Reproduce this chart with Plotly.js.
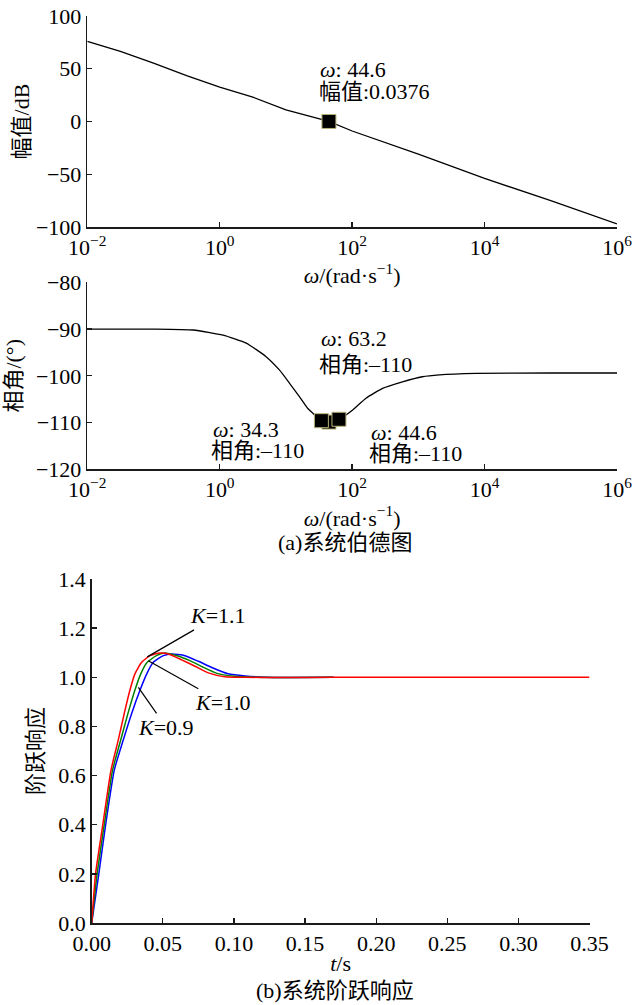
<!DOCTYPE html>
<html><head><meta charset="utf-8">
<script src="https://cdn.plot.ly/plotly-3.0.1.min.js"></script>
<style>html,body{margin:0;padding:0;background:#fff}#chart{width:632px;height:1005px}</style>
</head><body><div id="chart"></div>
<script>
// ---- Bode magnitude (ω in rad/s, dB) ----
const magW  = [0.01, 0.0316, 0.1, 0.316, 1, 3.16, 10, 25.7, 44.6, 100, 1000, 1e4, 1e5, 1e6];
const magDB = [76, 66.5, 55.4, 43.4, 32.6, 23.1, 11.1, 4.1, 0.0376, -9, -31, -54, -75, -97];
const magTipW = [44.6];
const magTipDB = [0.0376];
const magTipLabel = ['0.0376'];

// ---- Bode phase (ω in rad/s, degrees) ----
const phaseW   = [0.01, 0.1, 0.398, 1.12, 2.51, 5.01, 8.02, 11.35, 16.07, 21.4, 25.5, 34.3, 44.6, 63.2, 102, 162, 288, 575, 1148, 2089, 7413, 1e5, 1e6];
const phaseDeg = [-90, -90, -90.2, -91.3, -93.0, -95.9, -98.8, -101.6, -104.5, -107, -108, -109.6, -109.9, -109.3, -107.3, -104.8, -102.7, -101.3, -100.2, -99.8, -99.5, -99.4, -99.4];
const tipW = [34.3, 44.6, 63.2];
const tipPhase = [-109.6, -109.9, -109.3];
const tipPhaseLabel = ['–110', '–110', '–110'];

// ---- Step responses ----
const tK11 = [0, 0.0027, 0.0078, 0.0136, 0.0187, 0.0229, 0.0269, 0.0304, 0.0351, 0.041, 0.048, 0.0539, 0.0633, 0.0726, 0.082, 0.0937, 0.108, 0.13, 0.17, 0.25, 0.35];
const yK11 = [0, 0.2, 0.4, 0.623, 0.745, 0.853, 0.948, 1.014, 1.061, 1.088, 1.099, 1.095, 1.071, 1.045, 1.018, 1.002, 1.0, 0.999, 1.0, 1.0, 1.0];
const tK10 = [0, 0.0038, 0.0088, 0.0147, 0.0204, 0.0255, 0.0304, 0.0345, 0.039, 0.0455, 0.051, 0.06, 0.069, 0.078, 0.088, 0.1, 0.115, 0.14, 0.17];
const yK10 = [0, 0.2, 0.4, 0.623, 0.745, 0.853, 0.948, 1.014, 1.061, 1.088, 1.099, 1.088, 1.068, 1.042, 1.016, 1.004, 1.0, 0.999, 1.0];
const tK09 = [0, 0.005, 0.0098, 0.0159, 0.0222, 0.0281, 0.034, 0.0387, 0.0433, 0.0504, 0.0562, 0.0656, 0.075, 0.0844, 0.096, 0.1078, 0.122, 0.14, 0.17];
const yK09 = [0, 0.2, 0.4, 0.623, 0.745, 0.853, 0.948, 1.014, 1.061, 1.088, 1.095, 1.088, 1.065, 1.04, 1.014, 1.005, 1.0, 0.999, 1.0];
const kNames = ['1.1', '1.0', '0.9'];
const kTipT = [0.0391, 0.0398, 0.0328];
const kTipY = [1.083, 1.067, 0.959];

// ---- tick labels / captions ----
const logTickVals = [0.01, 1, 100, 1e4, 1e6];
const logTickText = ['10<sup>−2</sup>', '10<sup>0</sup>', '10<sup>2</sup>', '10<sup>4</sup>', '10<sup>6</sup>'];
const captionA = '(a)系统伯德图';
const captionB = '(b)系统阶跃响应';

const FONT = 'Liberation Serif, "Noto Sans CJK SC", serif';
const FS = 22;
const LINE = '#1a1a1a';

function ax(extra) {
  return Object.assign({
    showline: true, linecolor: LINE, linewidth: 1.6, mirror: false,
    ticks: 'inside', ticklen: 5, tickwidth: 1.3, tickcolor: LINE,
    showgrid: false, zeroline: false, fixedrange: true, ticklabeloverflow: 'allow',
    tickfont: {family: FONT, size: FS, color: '#000'}
  }, extra);
}

const smooth = {shape: 'spline', smoothing: 0.5};
const traces = [
  {x: magW, y: magDB, xaxis: 'x', yaxis: 'y', mode: 'lines', line: {color: '#000', width: 1.3}, hoverinfo: 'skip'},
  {x: magTipW, y: magTipDB, xaxis: 'x', yaxis: 'y', mode: 'markers',
   marker: {symbol: 'square', size: 14, color: '#000', line: {color: '#b8b27a', width: 1}}, hoverinfo: 'skip'},
  {x: phaseW, y: phaseDeg, xaxis: 'x2', yaxis: 'y2', mode: 'lines', line: Object.assign({color: '#000', width: 1.3}, smooth), hoverinfo: 'skip'},
  {x: [1, 0, 2].map(i => tipW[i]), y: [1, 0, 2].map(i => tipPhase[i]), xaxis: 'x2', yaxis: 'y2', mode: 'markers',
   marker: {symbol: 'square', size: 14, color: '#000', line: {color: '#b8b27a', width: 1}}, hoverinfo: 'skip'},
  {x: tK09, y: yK09, xaxis: 'x3', yaxis: 'y3', mode: 'lines', line: Object.assign({color: '#0000ff', width: 1.5}, smooth), hoverinfo: 'skip'},
  {x: tK10, y: yK10, xaxis: 'x3', yaxis: 'y3', mode: 'lines', line: Object.assign({color: '#008000', width: 1.5}, smooth), hoverinfo: 'skip'},
  {x: tK11, y: yK11, xaxis: 'x3', yaxis: 'y3', mode: 'lines', line: Object.assign({color: '#ff0000', width: 1.5}, smooth), hoverinfo: 'skip'}
];

const annFont = {family: FONT, size: FS, color: '#000'};
const annotations = [];
// magnitude datatip
magTipW.forEach((w, i) => {
  annotations.push({xref: 'x', yref: 'y', x: Math.log10(w), y: magTipDB[i], text: '<i>ω</i>: ' + w,
    showarrow: false, xanchor: 'left', yanchor: 'middle', xshift: -11, yshift: 52, font: annFont});
  annotations.push({xref: 'x', yref: 'y', x: Math.log10(w), y: magTipDB[i], text: '幅值:' + magTipLabel[i],
    showarrow: false, xanchor: 'left', yanchor: 'middle', xshift: -12, yshift: 30, font: annFont});
});
// phase datatips
const tipShift = [[-112, -9, -30], [38, -10, -31], [-22, 81, 55]];
tipW.forEach((w, i) => {
  const s = tipShift[i];
  annotations.push({xref: 'x2', yref: 'y2', x: Math.log10(w), y: tipPhase[i], text: '<i>ω</i>: ' + w,
    showarrow: false, xanchor: 'left', yanchor: 'middle', xshift: s[0] + 2, yshift: s[1], font: annFont});
  annotations.push({xref: 'x2', yref: 'y2', x: Math.log10(w), y: tipPhase[i], text: '相角:' + tipPhaseLabel[i],
    showarrow: false, xanchor: 'left', yanchor: 'middle', xshift: s[0], yshift: s[2], font: annFont});
});
// K labels with leader lines
const kOff = [[71, -41], [75, 42], [28, 40]];
kNames.forEach((k, i) => {
  annotations.push({xref: 'x3', yref: 'y3', x: kTipT[i], y: kTipY[i], text: '<i>K</i>=' + k,
    showarrow: true, arrowhead: 0, arrowwidth: 1.2, arrowcolor: '#000', ax: kOff[i][0], ay: kOff[i][1],
    font: annFont});
});
// captions
annotations.push({xref: 'paper', yref: 'paper', x: 345 / 632, y: 1 - 542 / 1005, text: captionA,
  showarrow: false, xanchor: 'center', yanchor: 'middle', font: annFont});
annotations.push({xref: 'paper', yref: 'paper', x: 335 / 632, y: 1 - 990 / 1005, text: captionB,
  showarrow: false, xanchor: 'center', yanchor: 'middle', font: annFont});

const layout = {
  width: 632, height: 1005,
  margin: {l: 0, r: 0, t: 0, b: 0},
  paper_bgcolor: '#fff', plot_bgcolor: '#fff',
  showlegend: false,
  font: {family: FONT, size: FS, color: '#000'},
  xaxis: ax({type: 'log', range: [-2, 6], domain: [87.3 / 632, 617 / 632], anchor: 'y',
    tickvals: logTickVals, ticktext: logTickText,
    title: {text: '<i>ω</i>/(rad·s<sup>−1</sup>)', font: {family: FONT, size: FS}, standoff: 0}}),
  yaxis: ax({range: [-100, 100], dtick: 50, domain: [1 - 227 / 1005, 1 - 16 / 1005], anchor: 'x',
    title: {text: '幅值/dB', font: {family: FONT, size: FS}, standoff: 0}}),
  xaxis2: ax({type: 'log', range: [-2, 6], domain: [87.3 / 632, 617 / 632], anchor: 'y2',
    tickvals: logTickVals, ticktext: logTickText,
    title: {text: '<i>ω</i>/(rad·s<sup>−1</sup>)', font: {family: FONT, size: FS}, standoff: 0}}),
  yaxis2: ax({range: [-120, -80], dtick: 10, domain: [1 - 469.3 / 1005, 1 - 282.3 / 1005], anchor: 'x2',
    title: {text: '相角/(°)', font: {family: FONT, size: FS}, standoff: 8}}),
  xaxis3: ax({range: [0, 0.35], dtick: 0.05, tickformat: '.2f', domain: [91.7 / 632, 589.5 / 632], anchor: 'y3',
    title: {text: '<i>t</i>/s', font: {family: FONT, size: FS}, standoff: 0}}),
  yaxis3: ax({range: [0, 1.4], dtick: 0.2, tickformat: '.1f', domain: [1 - 923 / 1005, 1 - 579 / 1005], anchor: 'x3',
    title: {text: '阶跃响应', font: {family: FONT, size: FS}, standoff: 8}}),
  annotations: annotations
};

Plotly.newPlot('chart', traces, layout, {staticPlot: true, displayModeBar: false});
</script></body></html>
